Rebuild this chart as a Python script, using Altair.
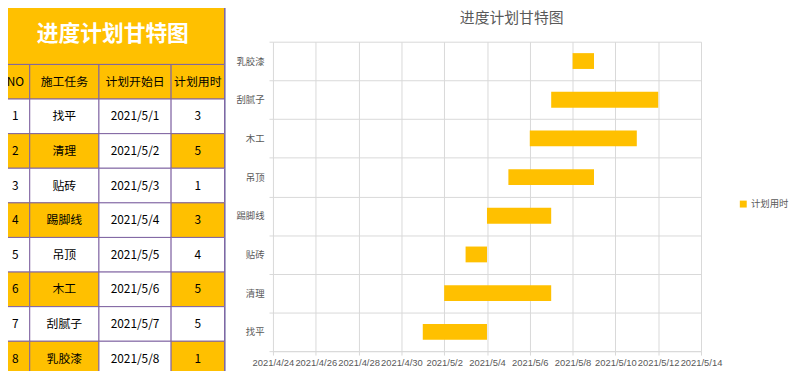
import altair as alt
import pandas as pd

# ---------------- data ----------------
table_title = "进度计划甘特图"
chart_title = "进度计划甘特图"
headers = ["NO", "施工任务", "计划开始日", "计划用时"]
task_no = [1, 2, 3, 4, 5, 6, 7, 8]
tasks = ["找平", "清理", "贴砖", "踢脚线", "吊顶", "木工", "刮腻子", "乳胶漆"]
start_dates = ["2021-05-01", "2021-05-02", "2021-05-03", "2021-05-04",
               "2021-05-05", "2021-05-06", "2021-05-07", "2021-05-08"]
start_labels = ["2021/5/1", "2021/5/2", "2021/5/3", "2021/5/4",
                "2021/5/5", "2021/5/6", "2021/5/7", "2021/5/8"]
durations = [3, 5, 1, 3, 4, 5, 5, 1]
series_name = "计划用时"
axis_start = "2021-04-24"
axis_end = "2021-05-14"
x_tick_days = ["2021-04-24", "2021-04-26", "2021-04-28", "2021-04-30",
               "2021-05-02", "2021-05-04", "2021-05-06", "2021-05-08",
               "2021-05-10", "2021-05-12", "2021-05-14"]

# ---------------- layout / style ----------------
ORANGE = "#FFC000"
BORDER = "#8064A2"
FRAME = "#A9A9C8"
GRID = "#D9D9D9"
TEXT_GRAY = "#595959"
CJK = "Noto Sans CJK SC"
col_widths = [29, 70, 73, 54]
title_h = 62
row_h = 35
table_w = 227
table_h = 377
plot_top = 39          # top of the gantt plot area
plot_w, plot_h = 433, 313


def dt(s):
    y, m, d = (int(p) for p in s.split("-"))
    return alt.DateTime(year=y, month=m, date=d)


# ---------------- table (left) ----------------
edges = [0]
for w in col_widths:
    edges.append(edges[-1] + w)

cells = [dict(x0=0, x1=edges[-1], y0=0, y1=title_h, fill=ORANGE, label="")]
for c, h in enumerate(headers):
    cells.append(dict(x0=edges[c], x1=edges[c + 1], y0=title_h, y1=title_h + row_h,
                      fill=ORANGE, label=h))
for i in range(len(tasks)):
    vals = [str(task_no[i]), tasks[i], start_labels[i], str(durations[i])]
    y0 = title_h + (i + 1) * row_h
    for c, v in enumerate(vals):
        shaded = (task_no[i] % 2 == 0) and c != 2
        cells.append(dict(x0=edges[c], x1=edges[c + 1], y0=y0, y1=y0 + row_h,
                          fill=ORANGE if shaded else "#FFFFFF", label=v))
cells_df = pd.DataFrame(cells)
cells_df["xc"] = (cells_df.x0 + cells_df.x1) / 2
cells_df["yc"] = (cells_df.y0 + cells_df.y1) / 2
frame_df = pd.DataFrame({"x0": [0], "x1": [table_w], "y0": [0], "y1": [table_h]})

tx = alt.Scale(domain=[0, table_w], nice=False, zero=False)
ty = alt.Scale(domain=[plot_top, table_h], nice=False, zero=False, reverse=True)

rects = alt.Chart(cells_df).mark_rect(stroke=BORDER, strokeWidth=1).encode(
    x=alt.X("x0:Q", scale=tx, axis=None),
    x2="x1:Q",
    y=alt.Y("y0:Q", scale=ty, axis=None),
    y2="y1:Q",
    fill=alt.Fill("fill:N", scale=None),
)
frame = alt.Chart(frame_df).mark_rect(filled=False, stroke=FRAME, strokeWidth=1).encode(
    x=alt.X("x0:Q", scale=tx, axis=None),
    x2="x1:Q",
    y=alt.Y("y0:Q", scale=ty, axis=None),
    y2="y1:Q",
)
texts = alt.Chart(cells_df).mark_text(font=CJK, fontSize=12, color="#000000",
                                      baseline="middle", align="center").encode(
    x=alt.X("xc:Q", scale=tx, axis=None),
    y=alt.Y("yc:Q", scale=ty, axis=None),
    text="label:N",
)
title_df = pd.DataFrame({"xc": [edges[-1] / 2], "yc": [title_h / 2], "label": [table_title]})
title_text = alt.Chart(title_df).mark_text(font=CJK, fontSize=22, fontWeight="bold",
                                           color="#FFFFFF", baseline="middle",
                                           align="center").encode(
    x=alt.X("xc:Q", scale=tx, axis=None),
    y=alt.Y("yc:Q", scale=ty, axis=None),
    text="label:N",
)
table = alt.layer(rects, frame, texts, title_text).properties(
    width=table_w, height=table_h - plot_top,
)

# ---------------- gantt (right) ----------------
starts = pd.to_datetime(start_dates)
gantt_df = pd.DataFrame({
    "task": tasks,
    "start": starts,
    "end": starts + pd.to_timedelta(durations, unit="D"),
    "series": series_name,
})

bars = alt.Chart(gantt_df).mark_bar(height=16).encode(
    x=alt.X("start:T",
            scale=alt.Scale(domain=[dt(axis_start), dt(axis_end)], nice=False),
            axis=alt.Axis(values=[dt(s) for s in x_tick_days], format="%Y/%-m/%-d",
                          title=None, labelFont="Liberation Sans", labelFontSize=9.5,
                          labelColor=TEXT_GRAY, labelOverlap=False, labelFlush=False,
                          labelBound=False, grid=True, gridColor=GRID, domainColor=GRID,
                          tickColor=GRID, tickSize=4, labelPadding=3)),
    x2="end:T",
    y=alt.Y("task:N", sort=tasks[::-1],
            scale=alt.Scale(paddingInner=0, paddingOuter=0),
            axis=alt.Axis(title=None, labelFont=CJK, labelFontSize=9.5,
                          labelColor=TEXT_GRAY, domain=False, ticks=True, tickSize=4,
                          tickColor=GRID, tickBand="extent", grid=True, gridColor=GRID,
                          labelPadding=5, minExtent=47, maxExtent=47)),
    color=alt.Color("series:N", scale=alt.Scale(range=[ORANGE]),
                    legend=alt.Legend(title=None, orient="none", legendX=746, legendY=159.5,
                                      symbolType="square", symbolSize=49,
                                      symbolStrokeWidth=0, labelFont=CJK,
                                      labelFontSize=9.5, labelColor=TEXT_GRAY,
                                      labelOffset=3, padding=0)),
).properties(
    width=plot_w, height=plot_h,
    title=alt.Title(chart_title, font=CJK, fontSize=15, fontWeight="normal",
                    color=TEXT_GRAY, anchor="middle", frame="group", dx=25, offset=10.5),
)

chart = alt.hconcat(table, bars, spacing=0).properties(
    padding={"left": -8, "top": -8, "right": 0, "bottom": -8},
    background="#FFFFFF",
).configure_view(stroke=None)

chart.save("out.html", embed_options={"renderer": "svg", "actions": False})
